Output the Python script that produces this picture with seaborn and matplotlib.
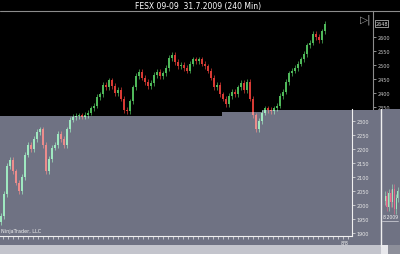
import numpy as np
import pandas as pd
import matplotlib
matplotlib.use("Agg")
import matplotlib.pyplot as plt
import seaborn as sns
from matplotlib.patches import Rectangle, Polygon
from matplotlib.lines import Line2D

# ---------------- data ----------------
title = "FESX 09-09  31.7.2009 (240 Min)"
closes = [1960, 2040, 2140, 2160, 2120, 2080, 2050, 2100, 2180, 2215,
          2200, 2235, 2260, 2270, 2215, 2120, 2165, 2205, 2215, 2255,
          2235, 2215, 2270, 2305, 2315, 2318, 2320, 2316, 2322, 2330,
          2345, 2355, 2385, 2395, 2430, 2420, 2445, 2425, 2400, 2410,
          2380, 2340, 2335, 2370, 2420, 2460, 2475, 2455, 2440, 2425,
          2435, 2465, 2475, 2460, 2470, 2490, 2525, 2535, 2510, 2495,
          2500, 2490, 2480, 2505, 2520, 2515, 2520, 2505, 2495, 2480,
          2455, 2420, 2430, 2395, 2380, 2360, 2390, 2405, 2395, 2420,
          2435, 2410, 2440, 2380, 2320, 2270, 2300, 2330, 2345, 2340,
          2335, 2345, 2355, 2390, 2405, 2440, 2470, 2480, 2490, 2505,
          2520, 2540, 2570, 2580, 2610, 2600, 2590, 2620, 2648]
first_open = 1940
wick = 10
top_ticks = [2350, 2400, 2450, 2500, 2550, 2600]
bottom_ticks = [1900, 1950, 2000, 2050, 2100, 2150, 2200, 2250, 2300]
last_label = "2648"
last_value = 2648
date_label = "8/8"
copyright_text = "NinjaTrader, LLC"
mini_closes = [2060, 2020, 2070, 2035, 2085, 2010, 2050, 2075]
mini_label = "8.2009"

# ---------------- style ----------------
sns.set_theme(style="dark")
plt.rcParams['font.family'] = ['DejaVu Sans']

W, H = 400, 255
GREY = '#6f7283'
fig = plt.figure(figsize=(4, 2.55), dpi=100, facecolor='black')


def rect(x0, y0, x1, y1):
    return [x0 / W, 1 - y1 / H, (x1 - x0) / W, (y1 - y0) / H]


def fxy(x, y):
    return x / W, 1 - y / H


def p2v(y):
    return 2350 + (108 - y) * 50 / 14


df = pd.DataFrame({'close': closes})
df['open'] = df['close'].shift(1).fillna(first_open)
df['high'] = df[['open', 'close']].max(axis=1) + wick
df['low'] = df[['open', 'close']].min(axis=1) - wick
df['i'] = np.arange(len(df))


def draw_candles(ax, d, up, down, width=0.5, clip=None, lw=0.5):
    cols = np.where(d['close'] >= d['open'], up, down)
    vl = ax.vlines(d['i'], d['low'], d['high'], colors=cols, lw=lw)
    body = np.maximum((d['close'] - d['open']).abs(), 2)
    bars = ax.bar(d['i'], body, bottom=d[['open', 'close']].min(axis=1),
                  width=width, color=cols, linewidth=0)
    if clip is not None:
        vl.set_clip_path(clip)
        for b in bars:
            b.set_clip_path(clip)


# ---------------- top (black) panel ----------------
ax1 = fig.add_axes(rect(0, 12, 373, 117))
ax1.set_facecolor('black')
ax1.set_xlim(-1 / 3, 372 / 3)
ax1.set_ylim(p2v(117), p2v(12))
draw_candles(ax1, df, '#4fb85a', '#d83a34')
ax1.grid(False)
ax1.set_xticks([])
ax1.yaxis.tick_right()
ax1.set_yticks(top_ticks)
ax1.set_yticklabels([str(t) for t in top_ticks])
ax1.tick_params(axis='y', colors='#c8c8c8', labelsize=3.5, length=2,
                width=0.5, pad=1, direction='out', right=True)
for s in ['top', 'left', 'bottom']:
    ax1.spines[s].set_visible(False)
ax1.spines['right'].set_color('#8c8c8c')
ax1.spines['right'].set_linewidth(0.8)
ax1.text(1.006, (last_value - p2v(117)) / (p2v(12) - p2v(117)), last_label,
         transform=ax1.transAxes, color='#e0e0e0', fontsize=3.5,
         va='center', ha='left',
         bbox=dict(boxstyle='square,pad=0.15', fc='black', ec='#d0d0d0', lw=0.5))

fig.add_artist(Line2D([0, 1], [1 - 12 / H] * 2, transform=fig.transFigure,
                      color='#8c8c8c', lw=0.8))
fig.text(*fxy(198, 6), title, color='white', fontsize=5.5, ha='center', va='center')
fig.text(*fxy(366, 20), "▷|", color='#a0a0a0', fontsize=7.5, ha='center', va='center')

# ---------------- grey overlay ----------------
poly_px = [(0, 117), (222, 117), (222, 113), (262, 113), (262, 111),
           (381, 111), (381, 246), (0, 246)]
grey_poly = Polygon([fxy(x, y) for x, y in poly_px], closed=True,
                    transform=fig.transFigure, facecolor=GREY, edgecolor='none',
                    zorder=1)
fig.add_artist(grey_poly)
fig.add_artist(Rectangle(fxy(382, 246), 18 / W, (246 - 110) / H,
                         transform=fig.transFigure, facecolor=GREY,
                         edgecolor='none', zorder=1))
fig.add_artist(Line2D([381 / W] * 2, [1 - 110 / H, 1 - 247 / H],
                      transform=fig.transFigure, color='#f0f0f0', lw=1.0, zorder=4))
# bottom strip
fig.add_artist(Rectangle(fxy(0, 255), 381 / W, 9 / H, transform=fig.transFigure,
                         facecolor='#c3c4cc', edgecolor='none', zorder=1))
fig.add_artist(Rectangle(fxy(381, 255), 7 / W, 9 / H, transform=fig.transFigure,
                         facecolor='#e8e8ec', edgecolor='none', zorder=1))
fig.add_artist(Rectangle(fxy(388, 255), 12 / W, 9 / H, transform=fig.transFigure,
                         facecolor='#8d8f9a', edgecolor='none', zorder=1))

# ---------------- bottom (grey) panel ----------------
ax2 = fig.add_axes(rect(0, 110, 352, 237), zorder=3)
ax2.set_facecolor('none')
ax2.patch.set_alpha(0)
ax2.set_xlim(-1 / 3, 351 / 3)
ax2.set_ylim(p2v(237), p2v(110))
draw_candles(ax2, df, '#9fe8c0', '#ec8c8c', clip=grey_poly)
ax2.grid(False)
ax2.yaxis.tick_right()
ax2.set_yticks(bottom_ticks)
ax2.set_yticklabels([str(t) for t in bottom_ticks])
xt = (np.arange(3, 350, 5) - 1) / 3
ax2.set_xticks(xt)
ax2.set_xticklabels([''] * len(xt))
ax2.tick_params(axis='y', colors='#e8e8e8', labelsize=3.5, length=2,
                width=0.5, pad=1, direction='out', right=True)
ax2.tick_params(axis='x', colors='#e8e8e8', length=2, width=0.5,
                direction='out', bottom=True)
for s in ['top', 'left']:
    ax2.spines[s].set_visible(False)
for s in ['right', 'bottom']:
    ax2.spines[s].set_color('#f0f0f0')
    ax2.spines[s].set_linewidth(0.8)

fig.text(*fxy(345, 243), date_label, color='#f0f0f0', fontsize=3.5,
         ha='center', va='center', zorder=5)
fig.text(*fxy(1, 232), copyright_text, color='#f0f0f0', fontsize=3.5,
         ha='left', va='center', zorder=5)

# ---------------- mini panel on right ----------------
ax3 = fig.add_axes(rect(384, 184, 399, 216), zorder=3)
ax3.set_facecolor('none')
mdf = pd.DataFrame({'close': mini_closes})
mdf['open'] = mdf['close'].shift(1).fillna(mini_closes[0] - 20)
mdf['high'] = mdf[['open', 'close']].max(axis=1) + 15
mdf['low'] = mdf[['open', 'close']].min(axis=1) - 15
mdf['i'] = np.arange(len(mdf))
draw_candles(ax3, mdf, '#9fe8c0', '#ec6c8c', width=0.5, lw=0.4)
ax3.set_xlim(-0.6, len(mdf) - 0.4)
ax3.set_axis_off()
fig.text(*fxy(383, 218), mini_label, color='#f0f0f0', fontsize=3.3,
         ha='left', va='center', zorder=5)
fig.add_artist(Line2D([382 / W, 398 / W], [1 - 222 / H] * 2,
                      transform=fig.transFigure, color='#d8d8e0', lw=0.5, zorder=5))

fig.savefig("out.png", dpi=100, facecolor='black')
